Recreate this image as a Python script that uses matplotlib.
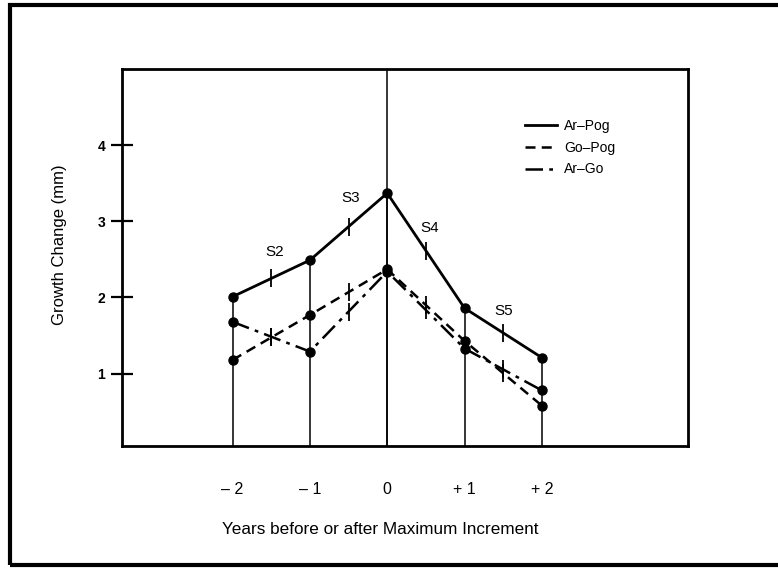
import matplotlib.pyplot as plt
from matplotlib.patches import Rectangle
from matplotlib.lines import Line2D

plt.rcParams['font.family'] = ['Liberation Sans', 'DejaVu Sans']

# datos
years = [-2, -1, 0, 1, 2]
year_labels = ['\u2013 2', '\u2013 1', '0', '+ 1', '+ 2']
ar_pog = [2.01, 2.49, 3.37, 1.86, 1.21]
go_pog = [1.18, 1.77, 2.37, 1.43, 0.58]
ar_go = [1.68, 1.29, 2.34, 1.33, 0.78]
stage_labels = ['S2', 'S3', 'S4', 'S5']
stage_x = [-1.46, -0.47, 0.55, 1.50]
stage_y = [2.60, 3.30, 2.91, 1.82]
series_names = ['Ar\u2013Pog', 'Go\u2013Pog', 'Ar\u2013Go']

W, H = 778, 569
fig = plt.figure(figsize=(W / 100, H / 100), dpi=100)
ax = fig.add_axes([122 / W, 1 - 446 / H, (688 - 122) / W, (446 - 69) / H])

# lineas verticales hasta la curva superior
ax.vlines(years, 0, ar_pog, color='black', lw=1.1)
ax.axvline(0, color='black', lw=1.1)

styles = [('-', 2.0), ((0, (4, 2.5)), 1.8), ((0, (7, 2.5, 1.5, 2.5)), 1.8)]
for serie, (ls, lw) in zip([ar_pog, go_pog, ar_go], styles):
    ax.plot(years, serie, linestyle=ls, lw=lw, color='black',
            marker='o', markersize=6.5)
    # marcas en el punto medio de cada tramo
    mid_x = [(years[i] + years[i + 1]) / 2 for i in range(len(years) - 1)]
    mid_y = [(serie[i] + serie[i + 1]) / 2 for i in range(len(serie) - 1)]
    ax.plot(mid_x, mid_y, linestyle='none', marker='|', markersize=13,
            markeredgewidth=1.3, color='black')

for lab, sx, sy in zip(stage_labels, stage_x, stage_y):
    ax.text(sx, sy, lab, ha='center', va='center', fontsize=11)

ax.set_xlim(-3.43, 3.89)
ax.set_ylim(0.05, 5.0)
ax.set_xticks(years)
ax.set_xticklabels(year_labels, fontsize=11.5)
ax.tick_params(axis='x', length=0, pad=26)
ax.set_yticks([1, 2, 3, 4])
ax.set_yticklabels(['1', '2', '3', '4'], fontsize=10, fontweight='bold')
ax.tick_params(axis='y', direction='inout', length=16, width=1.6, pad=4)
for s in ax.spines.values():
    s.set_linewidth(2.0)

ax.set_ylabel('Growth Change (mm)', fontsize=12)
ax.yaxis.set_label_coords(-0.097, 0.533)
ax.set_xlabel('Years before or after Maximum Increment', fontsize=12.3)
ax.xaxis.set_label_coords(0.456, -0.202)

handles = [Line2D([], [], color='black', linestyle=ls, lw=lw) for ls, lw in styles]
ax.legend(handles, series_names, loc='upper left', bbox_to_anchor=(0.69, 0.9),
          frameon=False, fontsize=10, handlelength=2.3, handletextpad=0.5,
          labelspacing=0.55)

# marco exterior
fig.add_artist(Rectangle((10 / W, 1 - 565 / H), 1.0, (565 - 5) / H,
                         transform=fig.transFigure, fill=False,
                         edgecolor='black', lw=3.0, clip_on=False))

fig.savefig('out.png', dpi=100)
